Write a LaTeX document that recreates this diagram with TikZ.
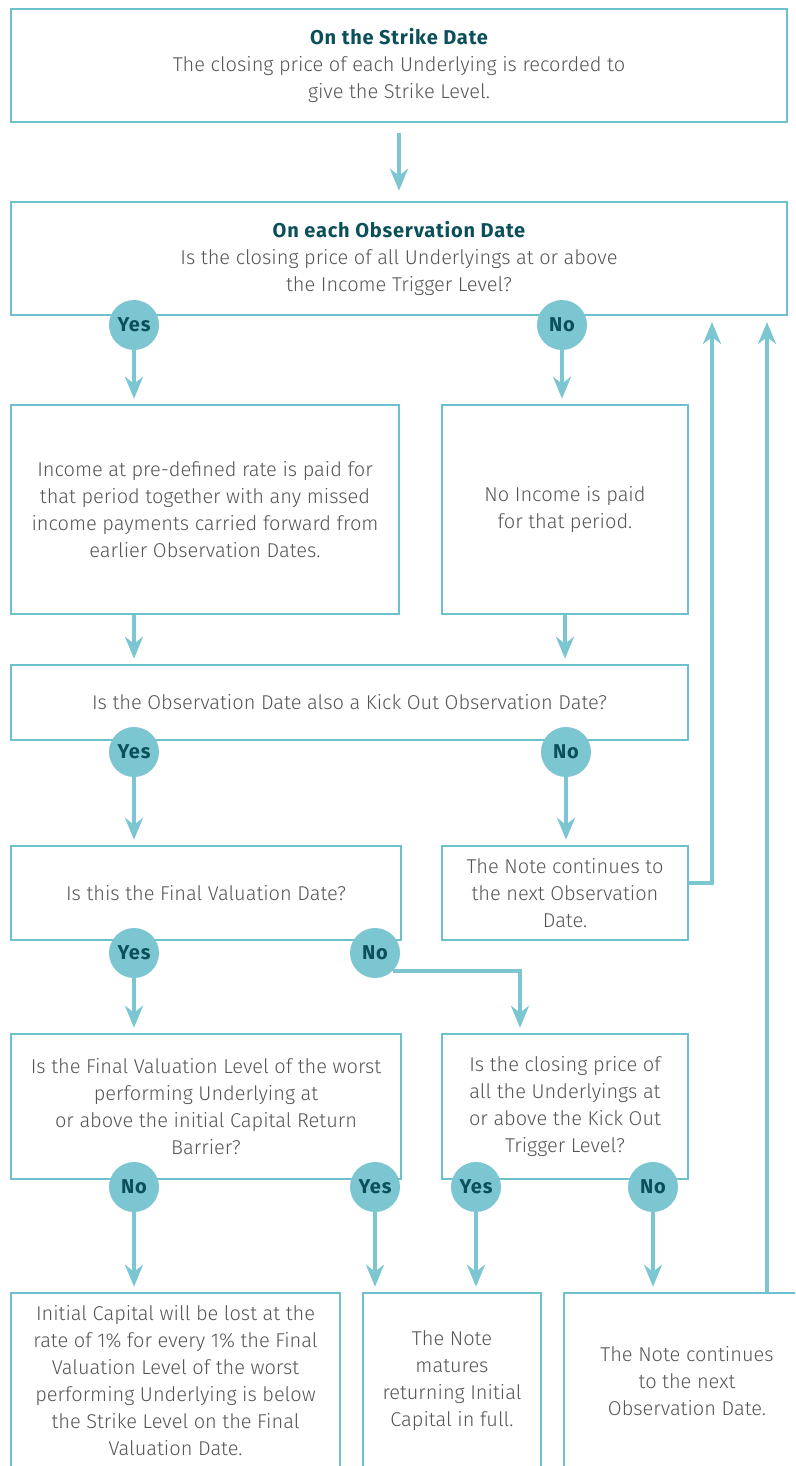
\documentclass[tikz,border=0pt]{standalone}
\usepackage{fontspec}
\setmainfont{Fira Sans}[UprightFont=* Light, BoldFont=* Bold, BoldFeatures={LetterSpace=4}]
\usetikzlibrary{arrows.meta}
\definecolor{boxline}{HTML}{6CC1CC}
\definecolor{arrowcol}{HTML}{7CC6D1}
\definecolor{headcol}{HTML}{0B4F5A}
\definecolor{bodycol}{HTML}{555555}
\begin{document}
\begin{tikzpicture}[x=1pt,y=-1pt,->,>={Stealth[length=22pt,width=18pt,inset=7pt]},
    box/.style={rectangle,draw=boxline,line width=2.5pt,align=center,inner sep=0pt,text=bodycol,font=\fontsize{20}{27}\selectfont},
    ans/.style={circle,fill=arrowcol,minimum size=50pt,inner sep=0pt,text=headcol,font=\fontsize{20}{20}\selectfont\bfseries}]
            \useasboundingbox (0,0) rectangle (795,1466);
            \clip (0,0) rectangle (795,1466);

            \node [box, minimum width=776pt, minimum height=113pt](1) at (399,65.5){{\bfseries\color{headcol}On the Strike Date}\\The closing price of each Underlying is recorded to\\give the Strike Level.};
            \node [box, minimum width=776pt, minimum height=113pt](2) at (399,258.5){{\bfseries\color{headcol}On each Observation Date}\\Is the closing price of all Underlyings at or above\\the Income Trigger Level?};
            \node [box, minimum width=388pt, minimum height=209pt](3) at (205,509.5){Income at pre-defined rate is paid for\\that period together with any missed\\income payments carried forward from\\earlier Observation Dates.};
            \node [box, minimum width=246pt, minimum height=209pt](4) at (565,509.5){No Income is paid\\for that period.};
            \node [box, minimum width=677pt, minimum height=75pt](5) at (349.5,702.5){Is the Observation Date also a Kick Out Observation Date?};
            \node [box, minimum width=390pt, minimum height=94pt](6) at (206,893){Is this the Final Valuation Date?};
            \node [box, minimum width=246pt, minimum height=94pt](7) at (565,893){The Note continues to\\the next Observation\\Date.};
            \node [box, minimum width=390pt, minimum height=145pt](8) at (206,1106.5){Is the Final Valuation Level of the worst\\performing Underlying at\\or above the initial Capital Return\\Barrier?};
            \node [box, minimum width=246pt, minimum height=145pt](9) at (565,1106.5){Is the closing price of\\all the Underlyings at\\or above the Kick Out\\Trigger Level?};
            \node [box, minimum width=329pt, minimum height=176pt](10) at (175.5,1381){Initial Capital will be lost at the\\rate of 1\% for every 1\% the Final\\Valuation Level of the worst\\performing Underlying is below\\the Strike Level on the Final\\Valuation Date.};
            \node [box, minimum width=178pt, minimum height=176pt](11) at (452,1381){The Note\\matures\\returning Initial\\Capital in full.};
            \node [box, minimum width=246pt, minimum height=176pt](12) at (687,1381){The Note continues\\to the next\\Observation Date.};

            \node [ans](13) at (134,325){Yes};
            \node [ans](14) at (562,325){No};
            \node [ans](15) at (134,752){Yes};
            \node [ans](16) at (566,752){No};
            \node [ans](17) at (134,953){Yes};
            \node [ans](18) at (375,953){No};
            \node [ans](19) at (134,1187){No};
            \node [ans](20) at (375,1187){Yes};
            \node [ans](21) at (476,1187){Yes};
            \node [ans](22) at (653,1187){No};

            \coordinate (23) at (712,322);
            \coordinate (24) at (767,322);

            \path[arrowcol, line width=4pt, shorten >=5pt]
                (1) edge[shorten <=10pt, shorten >=10pt] (2)
                (13) edge (13 |- 3.north)
                (14) edge (14 |- 4.north)
                (13 |- 3.south) edge (13 |- 5.north)
                (4.south) edge (4 |- 5.north)
                (15) edge (15 |- 6.north)
                (16) edge (16 |- 7.north)
                (17) edge (17 |- 8.north)
                (19) edge (19 |- 10.north)
                (20) edge (20 |- 11.north)
                (21) edge (21 |- 11.north)
                (22) edge (22 |- 12.north)
                (12.north -| 24) edge[shorten >=0pt] (24)
                ;
            \draw[arrowcol, line width=4pt, shorten >=5pt] (18.-45) -| ([xshift=-45pt]9.north);
            \draw[arrowcol, line width=4pt] ([yshift=10pt]7.east) -| (23);
        \end{tikzpicture}
\end{document}
